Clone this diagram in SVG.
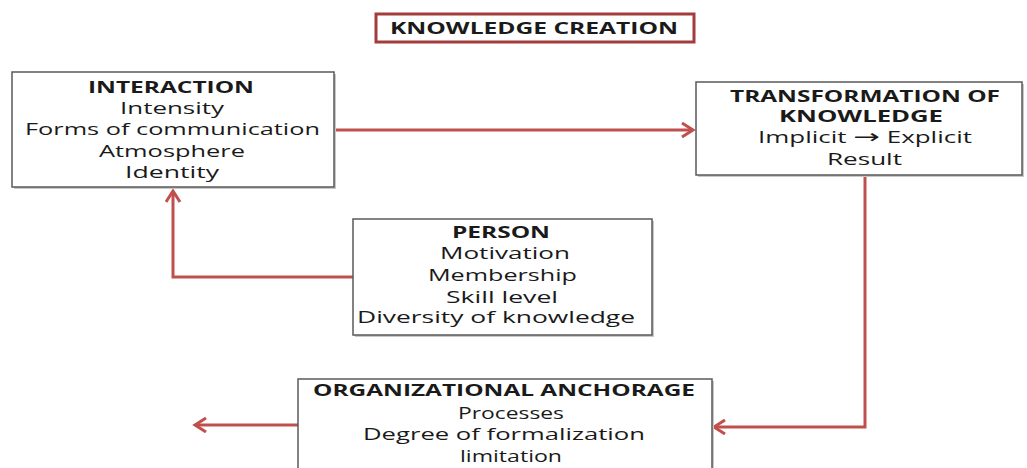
<svg xmlns="http://www.w3.org/2000/svg" width="1027" height="468" viewBox="0 0 1027 468">
<style>
.box{fill:#fff;stroke:#595959;stroke-width:1.5}
.sh{fill:#c8c8c8}
.t{font-family:"Open Sans","DejaVu Sans",sans-serif;font-size:15.5px;fill:#1a1a1a;text-anchor:middle}
.b{font-weight:bold}
.c{fill:none;stroke:#c0504d;stroke-width:3}
</style>
<defs>
<marker id="ah" markerUnits="userSpaceOnUse" markerWidth="20" markerHeight="20" refX="13" refY="8" orient="auto">
<path d="M2,1 L13,8 L2,15" fill="none" stroke="#c0504d" stroke-width="3"/>
</marker>
</defs>
<rect width="1027" height="468" fill="#fff"/>
<g id="title">
<rect x="376" y="14" width="318" height="28" fill="#fff" stroke="#a33c3c" stroke-width="3"/>
<text class="t b" x="534" y="34" style="font-size:16px" textLength="288" lengthAdjust="spacingAndGlyphs">KNOWLEDGE CREATION</text>
</g>
<g id="connectors">
<line class="c" x1="335" y1="130" x2="693" y2="130" marker-end="url(#ah)"/>
<polyline class="c" points="353,277 173,277 173,191" marker-end="url(#ah)"/>
<polyline class="c" points="865,176 865,427 714,427" marker-end="url(#ah)"/>
<line class="c" x1="298" y1="425" x2="195" y2="425" marker-end="url(#ah)"/>
</g>
<g id="interaction">
<rect class="sh" x="14" y="74" width="322" height="115"/>
<rect class="box" x="12" y="72" width="322" height="115"/>
<text class="t b" x="171" y="93" textLength="166" lengthAdjust="spacingAndGlyphs">INTERACTION</text>
<text class="t" x="172" y="114" textLength="104" lengthAdjust="spacingAndGlyphs">Intensity</text>
<text class="t" x="172.5" y="135" textLength="295" lengthAdjust="spacingAndGlyphs">Forms of communication</text>
<text class="t" x="172" y="157" textLength="146" lengthAdjust="spacingAndGlyphs">Atmosphere</text>
<text class="t" x="172" y="178" textLength="94" lengthAdjust="spacingAndGlyphs">Identity</text>
</g>
<g id="transformation">
<rect class="sh" x="698" y="84" width="326" height="93"/>
<rect class="box" x="696" y="82" width="326" height="93"/>
<text class="t b" x="865" y="102" textLength="270" lengthAdjust="spacingAndGlyphs">TRANSFORMATION OF</text>
<text class="t b" x="861" y="122" textLength="164" lengthAdjust="spacingAndGlyphs">KNOWLEDGE</text>
<text class="t" x="865" y="143" textLength="214" lengthAdjust="spacingAndGlyphs">Implicit <tspan style="font-family:'DejaVu Sans',sans-serif;font-size:19px">→</tspan> Explicit</text>
<text class="t" x="864.5" y="165" textLength="75" lengthAdjust="spacingAndGlyphs">Result</text>
</g>
<g id="person">
<rect class="sh" x="355" y="221" width="299" height="116"/>
<rect class="box" x="353" y="219" width="299" height="116"/>
<text class="t b" x="501" y="238" textLength="98" lengthAdjust="spacingAndGlyphs">PERSON</text>
<text class="t" x="505" y="259" textLength="130" lengthAdjust="spacingAndGlyphs">Motivation</text>
<text class="t" x="502.5" y="281" textLength="149" lengthAdjust="spacingAndGlyphs">Membership</text>
<text class="t" x="502" y="303" textLength="112" lengthAdjust="spacingAndGlyphs">Skill level</text>
<text class="t" x="496" y="323" textLength="278" lengthAdjust="spacingAndGlyphs">Diversity of knowledge</text>
</g>
<g id="organizational-anchorage">
<rect class="sh" x="300" y="381" width="414" height="95"/>
<rect class="box" x="298" y="379" width="414" height="95"/>
<text class="t b" x="504" y="396" textLength="382" lengthAdjust="spacingAndGlyphs">ORGANIZATIONAL ANCHORAGE</text>
<text class="t" x="511" y="419" textLength="106" lengthAdjust="spacingAndGlyphs">Processes</text>
<text class="t" x="504" y="440" textLength="282" lengthAdjust="spacingAndGlyphs">Degree of formalization</text>
<text class="t" x="511" y="462" textLength="102" lengthAdjust="spacingAndGlyphs">limitation</text>
</g>
</svg>
